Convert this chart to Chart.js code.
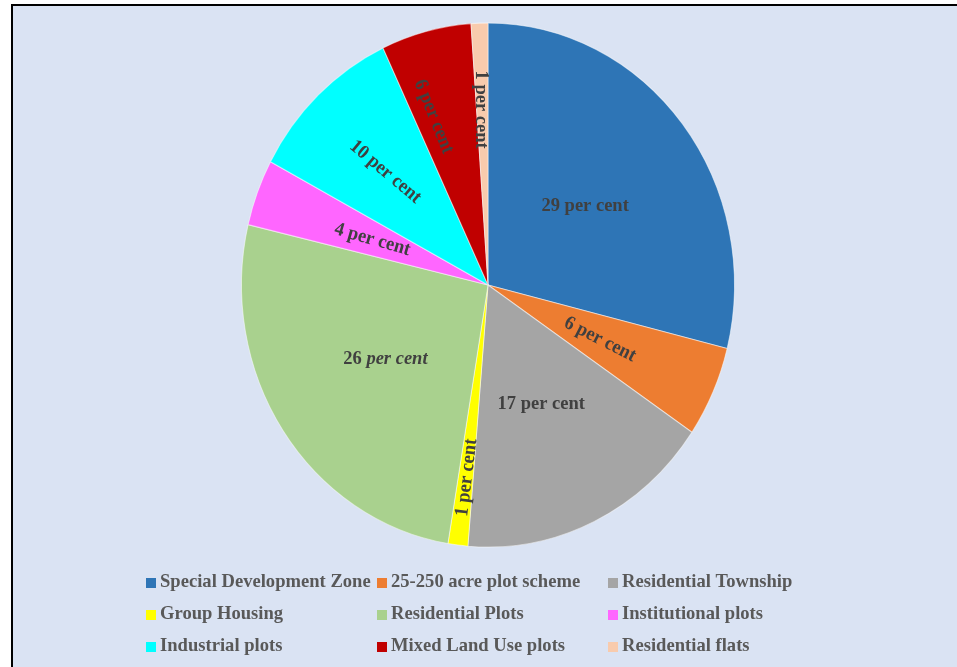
<!DOCTYPE html>
<html>
<head>
<meta charset="utf-8">
<script src="https://cdn.jsdelivr.net/npm/chart.js@4.4.1/dist/chart.umd.min.js"></script>
<style>
  html, body { margin: 0; padding: 0; background: #ffffff; }
  #wrap { width: 957px; height: 667px; }
</style>
</head>
<body>
<div id="wrap"><canvas id="canvas" width="957" height="667"></canvas></div>
<script>
// shares of land allotted, per cent
let categories = ["Special Development Zone", "25-250 acre plot scheme", "Residential Township",
    "Group Housing", "Residential Plots", "Institutional plots",
    "Industrial plots", "Mixed Land Use plots", "Residential flats"];
let shares = [28.9, 5.6, 16.8, 1.3, 26.1, 4.1, 10.2, 5.9, 1.1];
let colors = ["#2E75B6", "#ED7D31", "#A5A5A5", "#FFFF00", "#A9D18E", "#FF66FF", "#00FFFF", "#C00000", "#F8CBAD"];

// label layout: distance out along the slice, small angle shift, text rotation (degrees)
let labelRadius = [0.5, 0.5, 0.5, 0.74, 0.5, 0.5, 0.6, 0.68, 0.67];
let labelShift = [0, 0, 0, 0, 0, 0, 0, -4, 0];
let labelRotation = [0, 27, 0, -83, 0, 16, 40, 68, 90];
let italicUnit = [false, false, false, false, true, false, false, false, false];

let stretchY = 1.063;   // the original picture is a little taller than wide
let labelColor = "#404040";
let legendColor = "#595959";
let fontFamily = "'Liberation Serif', 'Times New Roman', serif";

let framePlugin = {
    id: "frame",
    beforeDraw: (chart) => {
        let ctx = chart.ctx;
        ctx.save();
        ctx.fillStyle = "#ffffff";
        ctx.fillRect(0, 0, chart.width, chart.height);
        ctx.fillStyle = "#DAE3F3";
        ctx.fillRect(12, 5, chart.width, chart.height);
        ctx.strokeStyle = "#000000";
        ctx.lineWidth = 2;
        ctx.beginPath();
        ctx.moveTo(12, chart.height + 2);
        ctx.lineTo(12, 5);
        ctx.lineTo(chart.width + 2, 5);
        ctx.stroke();
        ctx.restore();
    },
    beforeDatasetsDraw: (chart) => {
        let arc = chart.getDatasetMeta(0).data[0];
        let ctx = chart.ctx;
        ctx.save();
        ctx.translate(arc.x, arc.y);
        ctx.scale(1, stretchY);
        ctx.translate(-arc.x, -arc.y);
    },
    afterDatasetsDraw: (chart) => {
        chart.ctx.restore();
    }
};

let labelPlugin = {
    id: "sliceLabels",
    afterDraw: (chart) => {
        let ctx = chart.ctx;
        let arcs = chart.getDatasetMeta(0).data;
        arcs.forEach((arc, i) => {
            let mid = (arc.startAngle + arc.endAngle) / 2 + labelShift[i] * Math.PI / 180;
            let r = arc.outerRadius * labelRadius[i];
            let x = arc.x + Math.cos(mid) * r;
            let y = arc.y + Math.sin(mid) * r * stretchY;
            let num = Math.round(shares[i]) + " ";
            let unit = "per cent";
            let numFont = "bold 18.5px " + fontFamily;
            let unitFont = (italicUnit[i] ? "italic bold 18.5px " : "bold 18.5px ") + fontFamily;
            ctx.save();
            ctx.translate(x, y);
            ctx.rotate(labelRotation[i] * Math.PI / 180);
            ctx.scale(1, stretchY);
            ctx.fillStyle = labelColor;
            ctx.textBaseline = "middle";
            ctx.textAlign = "left";
            ctx.font = numFont;
            let w1 = ctx.measureText(num).width;
            ctx.font = unitFont;
            let w2 = ctx.measureText(unit).width;
            let start = -(w1 + w2) / 2;
            ctx.font = numFont;
            ctx.fillText(num, start, 1);
            ctx.font = unitFont;
            ctx.fillText(unit, start + w1, 1);
            ctx.restore();
        });
    }
};

let legendPlugin = {
    id: "gridLegend",
    afterDraw: (chart) => {
        let ctx = chart.ctx;
        let colX = [146, 377, 608];
        let rowY = [583, 615, 647];
        ctx.save();
        categories.forEach((name, i) => {
            let x = colX[i % 3];
            let y = rowY[Math.floor(i / 3)];
            ctx.fillStyle = colors[i];
            ctx.fillRect(x, y - 5, 10, 10);
            ctx.save();
            ctx.translate(x + 14, y + 4);
            ctx.scale(1, stretchY);
            ctx.fillStyle = legendColor;
            ctx.font = "bold 18.6px " + fontFamily;
            ctx.textBaseline = "alphabetic";
            ctx.fillText(name, 0, 0);
            ctx.restore();
        });
        ctx.restore();
    }
};

new Chart(document.getElementById("canvas").getContext("2d"), {
    type: "pie",
    data: {
        labels: categories,
        datasets: [{
            data: shares,
            backgroundColor: colors,
            borderColor: "rgba(255,255,255,0.5)",
            borderWidth: 1,
            clip: false
        }]
    },
    options: {
        responsive: false,
        animation: false,
        layout: {
            padding: {top: 38, bottom: 135, left: 241, right: 222}
        },
        plugins: {
            legend: {display: false},
            tooltip: {enabled: false}
        }
    },
    plugins: [framePlugin, labelPlugin, legendPlugin]
});
</script>
</body>
</html>
